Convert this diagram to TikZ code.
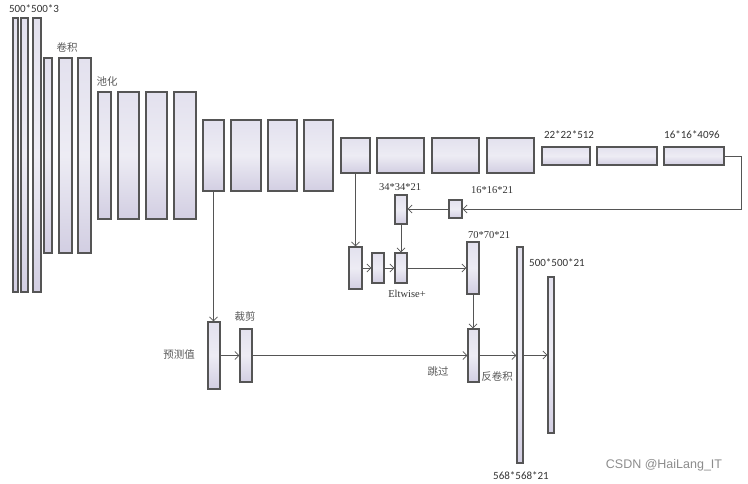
\documentclass[tikz,border=0pt]{standalone}
\usepackage{fontspec}
\setmainfont{Liberation Serif}
\newfontfamily\cjk{Noto Sans CJK SC}
\newfontfamily\calibri{Carlito}
\newfontfamily\arialf{Liberation Sans}
\usetikzlibrary{arrows.meta, positioning, fit}
\definecolor{cajaarriba}{HTML}{E3E1EE}
\definecolor{cajamedio}{HTML}{EDECF4}
\definecolor{cajaabajo}{HTML}{D2CEE2}
\definecolor{borde}{HTML}{555555}

\begin{document}
\begin{tikzpicture}[
        x=1pt, y=-1pt,
        >={Straight Barb[length=4pt,width=8pt]},
        % Estilos de capas y textos
        capa/.style={draw=borde, line width=1.1pt, top color=cajaarriba, bottom color=cajaabajo, middle color=cajamedio, inner sep=0pt},
        flecha/.style={->, draw=borde, line width=0.8pt},
        dato/.style={font=\calibri\fontsize{11}{12}\selectfont, text=black!80, inner sep=0pt},
        datos/.style={font=\fontsize{10.5}{12}\selectfont, text=black!80, inner sep=0pt},
        paso/.style={font=\cjk\fontsize{10.5}{12}\selectfont, text=black!65, inner sep=0pt}
    ]
        \useasboundingbox (0,0) rectangle (748,484);

        % Entrada y bloques de convolucion
        \node[capa, fit={(13,18) (18,292)}] (c1) {};
        \node[capa, fit={(21,18) (28,292)}] (c2) {};
        \node[capa, fit={(33,18) (41,292)}] (c3) {};
        \node[capa, fit={(44,58) (52,253)}] (c4) {};
        \node[capa, fit={(59,58) (72,253)}] (c5) {};
        \node[capa, fit={(78,58) (91,253)}] (c6) {};
        \node[capa, fit={(98,92) (111,219)}] (p1) {};
        \node[capa, fit={(118,92) (139,219)}] (p2) {};
        \node[capa, fit={(146,92) (167,219)}] (p3) {};
        \node[capa, fit={(174,92) (196,219)}] (p4) {};
        \node[capa, fit={(203,120) (224,191)}] (q1) {};
        \node[capa, fit={(231,120) (261,191)}] (q2) {};
        \node[capa, fit={(268,120) (297,191)}] (q3) {};
        \node[capa, fit={(304,120) (333,191)}] (q4) {};
        \node[capa, fit={(341,138) (370,173)}] (r1) {};
        \node[capa, fit={(377,138) (424,173)}] (r2) {};
        \node[capa, fit={(432,138) (479,173)}] (r3) {};
        \node[capa, fit={(487,138) (534,173)}] (r4) {};
        \node[capa, fit={(542,147) (590,165)}] (f1) {};
        \node[capa, fit={(597,147) (657,165)}] (f2) {};
        \node[capa, fit={(664,147) (724,165)}] (f3) {};

        % Rama de fusion
        \node[capa, fit={(449,200) (462,218)}] (s16) {};
        \node[capa, fit={(395,195) (407,224)}] (s34) {};
        \node[capa, fit={(349,247) (362,289)}] (a1) {};
        \node[capa, fit={(372,253) (384,283)}] (a2) {};
        \node[capa, fit={(395,253) (407,283)}] (elt) {};
        \node[capa, fit={(467,242) (479,294)}] (s70) {};

        % Prediccion, recorte y salida
        \node[capa, fit={(208,322) (220,389)}] (pred) {};
        \node[capa, fit={(240,329) (252,382)}] (crop) {};
        \node[capa, fit={(468,329) (479,382)}] (skip) {};
        \node[capa, fit={(517,247) (523,463)}] (big) {};
        \node[capa, fit={(548,277) (554,433)}] (out) {};

        % Etiquetas
        \node[dato] at (34,9) {500*500*3};
        \node[paso] at (67,48) {卷积};
        \node[paso] at (107,82) {池化};
        \node[dato] at (569,135) {22*22*512};
        \node[dato] at (692,135) {16*16*4096};
        \node[datos] at (400,187) {34*34*21};
        \node[datos] at (492,190) {16*16*21};
        \node[datos] at (407,294) {Eltwise+};
        \node[datos] at (489,235) {70*70*21};
        \node[paso] at (179,355) {预测值};
        \node[paso] at (245,317) {裁剪};
        \node[paso] at (438,372) {跳过};
        \node[paso] at (497,377) {反卷积};
        \node[dato] at (557,263) {500*500*21};
        \node[dato] at (521,476) {568*568*21};
        \node[font=\arialf\fontsize{12.5}{14}\selectfont, text=black!45, inner sep=0pt] at (664,465) {CSDN @HaiLang\_IT};

        % Conexiones
        \coordinate (giro) at (741,209);
        \draw[flecha] (f3.east) -| (giro) -- (s16.east);
        \draw[flecha] (s16.west) -- (s16.west -| s34.east);
        \draw[flecha] (s34.south) -- (elt.north);
        \draw[flecha] (r1.south) -- (r1.south |- a1.north);
        \draw[flecha] (a1.east) -- (a2.west);
        \draw[flecha] (a2.east) -- (elt.west);
        \draw[flecha] (elt.east) -- (elt.east -| s70.west);
        \draw[flecha] (s70.south) -- (s70.south |- skip.north);
        \draw[flecha] (q1.south) -- (q1.south |- pred.north);
        \draw[flecha] (pred.east) -- (crop.west);
        \draw[flecha] (crop.east) -- (skip.west);
        \draw[flecha] (skip.east) -- (skip.east -| big.west);
        \draw[flecha] (big.east) -- (big.east -| out.west);

    \end{tikzpicture}
\end{document}
